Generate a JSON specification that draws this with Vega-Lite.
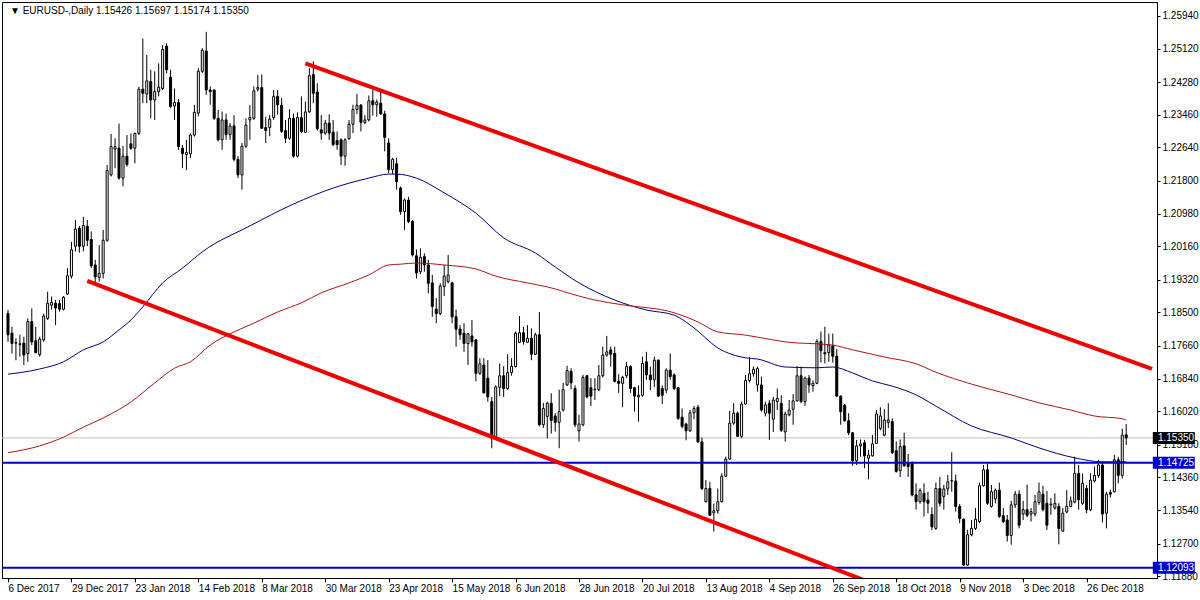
{
"$schema":"https://vega.github.io/schema/vega-lite/v6.json",
"width":1155,"height":576,
"autosize":{"type":"none"},
"padding":{"left":2,"top":2,"right":43,"bottom":22},
"background":"white",
"config":{"view":{"stroke":"black","strokeWidth":1},"font":"Liberation Sans","axis":{"labelFont":"Liberation Sans","labelFontSize":10,"labelColor":"black","tickColor":"black","domainColor":"black","grid":false,"labelOverlap":false,"labelFlush":false}},
"datasets":{
"bars":[
{"d":"2017-12-06","i":0,"o":1.1847,"h":1.1856,"l":1.1776,"c":1.1794},
{"d":"2017-12-07","i":1,"o":1.1798,"h":1.1814,"l":1.1747,"c":1.1772},
{"d":"2017-12-08","i":2,"o":1.1773,"h":1.1785,"l":1.1730,"c":1.1774},
{"d":"2017-12-11","i":3,"o":1.1771,"h":1.1794,"l":1.1739,"c":1.1770},
{"d":"2017-12-12","i":4,"o":1.1773,"h":1.1789,"l":1.1718,"c":1.1743},
{"d":"2017-12-13","i":5,"o":1.1747,"h":1.1835,"l":1.1726,"c":1.1827},
{"d":"2017-12-14","i":6,"o":1.1827,"h":1.1860,"l":1.1768,"c":1.1776},
{"d":"2017-12-15","i":7,"o":1.1779,"h":1.1814,"l":1.1747,"c":1.1749},
{"d":"2017-12-18","i":8,"o":1.1744,"h":1.1789,"l":1.1739,"c":1.1783},
{"d":"2017-12-19","i":9,"o":1.1781,"h":1.1847,"l":1.1776,"c":1.1841},
{"d":"2017-12-20","i":10,"o":1.1835,"h":1.1902,"l":1.1831,"c":1.1873},
{"d":"2017-12-21","i":11,"o":1.1868,"h":1.1890,"l":1.1857,"c":1.1875},
{"d":"2017-12-22","i":12,"o":1.1873,"h":1.1881,"l":1.1818,"c":1.1861},
{"d":"2017-12-26","i":13,"o":1.1872,"h":1.1881,"l":1.1852,"c":1.1858},
{"d":"2017-12-27","i":14,"o":1.1858,"h":1.1891,"l":1.1855,"c":1.1888},
{"d":"2017-12-28","i":15,"o":1.1896,"h":1.1961,"l":1.1894,"c":1.1942},
{"d":"2017-12-29","i":16,"o":1.1941,"h":1.2027,"l":1.1935,"c":1.2007},
{"d":"2018-01-02","i":17,"o":1.2016,"h":1.2082,"l":1.2003,"c":1.2059},
{"d":"2018-01-03","i":18,"o":1.2061,"h":1.2067,"l":1.2000,"c":1.2016},
{"d":"2018-01-04","i":19,"o":1.2016,"h":1.2090,"l":1.2003,"c":1.2068},
{"d":"2018-01-05","i":20,"o":1.2066,"h":1.2082,"l":1.2016,"c":1.2031},
{"d":"2018-01-08","i":21,"o":1.2033,"h":1.2053,"l":1.1961,"c":1.1967},
{"d":"2018-01-09","i":22,"o":1.1969,"h":1.1982,"l":1.1919,"c":1.1939},
{"d":"2018-01-10","i":23,"o":1.1938,"h":1.2019,"l":1.1927,"c":1.1948},
{"d":"2018-01-11","i":24,"o":1.1948,"h":1.2057,"l":1.1935,"c":1.2031},
{"d":"2018-01-12","i":25,"o":1.2031,"h":1.2220,"l":1.2027,"c":1.2206},
{"d":"2018-01-15","i":26,"o":1.2195,"h":1.2298,"l":1.2191,"c":1.2266},
{"d":"2018-01-16","i":27,"o":1.2260,"h":1.2287,"l":1.2212,"c":1.2266},
{"d":"2018-01-17","i":28,"o":1.2262,"h":1.2324,"l":1.2183,"c":1.2187},
{"d":"2018-01-18","i":29,"o":1.2187,"h":1.2268,"l":1.2166,"c":1.2242},
{"d":"2018-01-19","i":30,"o":1.2242,"h":1.2295,"l":1.2216,"c":1.2221},
{"d":"2018-01-22","i":31,"o":1.2273,"h":1.2299,"l":1.2258,"c":1.2262},
{"d":"2018-01-23","i":32,"o":1.2262,"h":1.2301,"l":1.2224,"c":1.2299},
{"d":"2018-01-24","i":33,"o":1.2299,"h":1.2416,"l":1.2295,"c":1.2410},
{"d":"2018-01-25","i":34,"o":1.2410,"h":1.2537,"l":1.2375,"c":1.2400},
{"d":"2018-01-26","i":35,"o":1.2398,"h":1.2496,"l":1.2375,"c":1.2431},
{"d":"2018-01-29","i":36,"o":1.2429,"h":1.2459,"l":1.2337,"c":1.2383},
{"d":"2018-01-30","i":37,"o":1.2383,"h":1.2455,"l":1.2333,"c":1.2404},
{"d":"2018-01-31","i":38,"o":1.2404,"h":1.2475,"l":1.2392,"c":1.2415},
{"d":"2018-02-01","i":39,"o":1.2412,"h":1.2521,"l":1.2408,"c":1.2510},
{"d":"2018-02-02","i":40,"o":1.2518,"h":1.2525,"l":1.2450,"c":1.2459},
{"d":"2018-02-05","i":41,"o":1.2440,"h":1.2459,"l":1.2363,"c":1.2367},
{"d":"2018-02-06","i":42,"o":1.2368,"h":1.2412,"l":1.2333,"c":1.2377},
{"d":"2018-02-07","i":43,"o":1.2377,"h":1.2385,"l":1.2258,"c":1.2266},
{"d":"2018-02-08","i":44,"o":1.2262,"h":1.2270,"l":1.2212,"c":1.2248},
{"d":"2018-02-09","i":45,"o":1.2246,"h":1.2283,"l":1.2207,"c":1.2251},
{"d":"2018-02-12","i":46,"o":1.2248,"h":1.2299,"l":1.2237,"c":1.2295},
{"d":"2018-02-13","i":47,"o":1.2295,"h":1.2371,"l":1.2291,"c":1.2352},
{"d":"2018-02-14","i":48,"o":1.2350,"h":1.2463,"l":1.2342,"c":1.2455},
{"d":"2018-02-15","i":49,"o":1.2455,"h":1.2513,"l":1.2451,"c":1.2508},
{"d":"2018-02-16","i":50,"o":1.2506,"h":1.2554,"l":1.2396,"c":1.2408},
{"d":"2018-02-19","i":51,"o":1.2408,"h":1.2417,"l":1.2371,"c":1.2404},
{"d":"2018-02-20","i":52,"o":1.2408,"h":1.2410,"l":1.2333,"c":1.2337},
{"d":"2018-02-21","i":53,"o":1.2337,"h":1.2358,"l":1.2279,"c":1.2283},
{"d":"2018-02-22","i":54,"o":1.2283,"h":1.2354,"l":1.2258,"c":1.2333},
{"d":"2018-02-23","i":55,"o":1.2333,"h":1.2349,"l":1.2283,"c":1.2296},
{"d":"2018-02-26","i":56,"o":1.2296,"h":1.2325,"l":1.2283,"c":1.2318},
{"d":"2018-02-27","i":57,"o":1.2318,"h":1.2345,"l":1.2229,"c":1.2234},
{"d":"2018-02-28","i":58,"o":1.2234,"h":1.2242,"l":1.2187,"c":1.2195},
{"d":"2018-03-01","i":59,"o":1.2195,"h":1.2275,"l":1.2158,"c":1.2267},
{"d":"2018-03-02","i":60,"o":1.2267,"h":1.2337,"l":1.2263,"c":1.2320},
{"d":"2018-03-05","i":61,"o":1.2333,"h":1.2370,"l":1.2283,"c":1.2339},
{"d":"2018-03-06","i":62,"o":1.2337,"h":1.2417,"l":1.2333,"c":1.2406},
{"d":"2018-03-07","i":63,"o":1.2410,"h":1.2446,"l":1.2404,"c":1.2414},
{"d":"2018-03-08","i":64,"o":1.2414,"h":1.2447,"l":1.2311,"c":1.2312},
{"d":"2018-03-09","i":65,"o":1.2314,"h":1.2341,"l":1.2275,"c":1.2306},
{"d":"2018-03-12","i":66,"o":1.2314,"h":1.2345,"l":1.2292,"c":1.2335},
{"d":"2018-03-13","i":67,"o":1.2339,"h":1.2408,"l":1.2333,"c":1.2392},
{"d":"2018-03-14","i":68,"o":1.2392,"h":1.2408,"l":1.2346,"c":1.2371},
{"d":"2018-03-15","i":69,"o":1.2370,"h":1.2388,"l":1.2300,"c":1.2304},
{"d":"2018-03-16","i":70,"o":1.2306,"h":1.2333,"l":1.2275,"c":1.2287},
{"d":"2018-03-19","i":71,"o":1.2287,"h":1.2360,"l":1.2283,"c":1.2337},
{"d":"2018-03-20","i":72,"o":1.2337,"h":1.2349,"l":1.2238,"c":1.2242},
{"d":"2018-03-21","i":73,"o":1.2242,"h":1.2352,"l":1.2239,"c":1.2339},
{"d":"2018-03-22","i":74,"o":1.2339,"h":1.2392,"l":1.2300,"c":1.2304},
{"d":"2018-03-23","i":75,"o":1.2302,"h":1.2379,"l":1.2300,"c":1.2353},
{"d":"2018-03-26","i":76,"o":1.2353,"h":1.2463,"l":1.2351,"c":1.2444},
{"d":"2018-03-27","i":77,"o":1.2447,"h":1.2480,"l":1.2375,"c":1.2400},
{"d":"2018-03-28","i":78,"o":1.2403,"h":1.2425,"l":1.2306,"c":1.2311},
{"d":"2018-03-29","i":79,"o":1.2308,"h":1.2345,"l":1.2283,"c":1.2300},
{"d":"2018-03-30","i":80,"o":1.2300,"h":1.2333,"l":1.2296,"c":1.2325},
{"d":"2018-04-02","i":81,"o":1.2325,"h":1.2347,"l":1.2283,"c":1.2300},
{"d":"2018-04-03","i":82,"o":1.2302,"h":1.2333,"l":1.2267,"c":1.2271},
{"d":"2018-04-04","i":83,"o":1.2281,"h":1.2304,"l":1.2258,"c":1.2271},
{"d":"2018-04-05","i":84,"o":1.2283,"h":1.2287,"l":1.2220,"c":1.2242},
{"d":"2018-04-06","i":85,"o":1.2242,"h":1.2287,"l":1.2218,"c":1.2283},
{"d":"2018-04-09","i":86,"o":1.2286,"h":1.2333,"l":1.2283,"c":1.2322},
{"d":"2018-04-10","i":87,"o":1.2322,"h":1.2371,"l":1.2300,"c":1.2359},
{"d":"2018-04-11","i":88,"o":1.2359,"h":1.2398,"l":1.2348,"c":1.2370},
{"d":"2018-04-12","i":89,"o":1.2370,"h":1.2373,"l":1.2304,"c":1.2327},
{"d":"2018-04-13","i":90,"o":1.2327,"h":1.2345,"l":1.2322,"c":1.2333},
{"d":"2018-04-16","i":91,"o":1.2333,"h":1.2394,"l":1.2329,"c":1.2381},
{"d":"2018-04-17","i":92,"o":1.2381,"h":1.2408,"l":1.2344,"c":1.2371},
{"d":"2018-04-18","i":93,"o":1.2371,"h":1.2384,"l":1.2341,"c":1.2378},
{"d":"2018-04-19","i":94,"o":1.2375,"h":1.2408,"l":1.2346,"c":1.2348},
{"d":"2018-04-20","i":95,"o":1.2348,"h":1.2356,"l":1.2254,"c":1.2289},
{"d":"2018-04-23","i":96,"o":1.2275,"h":1.2287,"l":1.2199,"c":1.2208},
{"d":"2018-04-24","i":97,"o":1.2208,"h":1.2238,"l":1.2197,"c":1.2234},
{"d":"2018-04-25","i":98,"o":1.2223,"h":1.2238,"l":1.2158,"c":1.2178},
{"d":"2018-04-26","i":99,"o":1.2162,"h":1.2166,"l":1.2095,"c":1.2103},
{"d":"2018-04-27","i":100,"o":1.2103,"h":1.2136,"l":1.2057,"c":1.2132},
{"d":"2018-04-30","i":101,"o":1.2132,"h":1.2140,"l":1.2074,"c":1.2078},
{"d":"2018-05-01","i":102,"o":1.2078,"h":1.2082,"l":1.1990,"c":1.1994},
{"d":"2018-05-02","i":103,"o":1.1992,"h":1.2008,"l":1.1935,"c":1.1949},
{"d":"2018-05-03","i":104,"o":1.1952,"h":1.2011,"l":1.1946,"c":1.1988},
{"d":"2018-05-04","i":105,"o":1.1990,"h":1.1998,"l":1.1952,"c":1.1969},
{"d":"2018-05-07","i":106,"o":1.1969,"h":1.1982,"l":1.1898,"c":1.1923},
{"d":"2018-05-08","i":107,"o":1.1924,"h":1.1944,"l":1.1839,"c":1.1865},
{"d":"2018-05-09","i":108,"o":1.1858,"h":1.1886,"l":1.1823,"c":1.1847},
{"d":"2018-05-10","i":109,"o":1.1847,"h":1.1923,"l":1.1843,"c":1.1916},
{"d":"2018-05-11","i":110,"o":1.1915,"h":1.1969,"l":1.1891,"c":1.1941},
{"d":"2018-05-14","i":111,"o":1.1927,"h":1.1994,"l":1.1923,"c":1.1944},
{"d":"2018-05-15","i":112,"o":1.1924,"h":1.1927,"l":1.1823,"c":1.1839},
{"d":"2018-05-16","i":113,"o":1.1839,"h":1.1857,"l":1.1764,"c":1.1808},
{"d":"2018-05-17","i":114,"o":1.1808,"h":1.1818,"l":1.1781,"c":1.1794},
{"d":"2018-05-18","i":115,"o":1.1798,"h":1.1823,"l":1.1751,"c":1.1772},
{"d":"2018-05-21","i":116,"o":1.1772,"h":1.1798,"l":1.1718,"c":1.1796},
{"d":"2018-05-22","i":117,"o":1.1791,"h":1.1831,"l":1.1764,"c":1.1776},
{"d":"2018-05-23","i":118,"o":1.1781,"h":1.1783,"l":1.1677,"c":1.1697},
{"d":"2018-05-24","i":119,"o":1.1697,"h":1.1735,"l":1.1693,"c":1.1721},
{"d":"2018-05-25","i":120,"o":1.1718,"h":1.1735,"l":1.1647,"c":1.1648},
{"d":"2018-05-28","i":121,"o":1.1685,"h":1.1730,"l":1.1626,"c":1.1638},
{"d":"2018-05-29","i":122,"o":1.1626,"h":1.1638,"l":1.1509,"c":1.1538},
{"d":"2018-05-30","i":123,"o":1.1538,"h":1.1667,"l":1.1530,"c":1.1663},
{"d":"2018-05-31","i":124,"o":1.1662,"h":1.1722,"l":1.1640,"c":1.1691},
{"d":"2018-06-01","i":125,"o":1.1691,"h":1.1715,"l":1.1638,"c":1.1659},
{"d":"2018-06-04","i":126,"o":1.1659,"h":1.1745,"l":1.1655,"c":1.1699},
{"d":"2018-06-05","i":127,"o":1.1699,"h":1.1735,"l":1.1691,"c":1.1715},
{"d":"2018-06-06","i":128,"o":1.1714,"h":1.1802,"l":1.1712,"c":1.1798},
{"d":"2018-06-07","i":129,"o":1.1775,"h":1.1841,"l":1.1773,"c":1.1799},
{"d":"2018-06-08","i":130,"o":1.1799,"h":1.1814,"l":1.1769,"c":1.1777},
{"d":"2018-06-11","i":131,"o":1.1775,"h":1.1818,"l":1.1773,"c":1.1785},
{"d":"2018-06-12","i":132,"o":1.1785,"h":1.1810,"l":1.1730,"c":1.1745},
{"d":"2018-06-13","i":133,"o":1.1745,"h":1.1799,"l":1.1743,"c":1.1794},
{"d":"2018-06-14","i":134,"o":1.1794,"h":1.1851,"l":1.1564,"c":1.1568},
{"d":"2018-06-15","i":135,"o":1.1568,"h":1.1623,"l":1.1560,"c":1.1609},
{"d":"2018-06-18","i":136,"o":1.1589,"h":1.1626,"l":1.1534,"c":1.1622},
{"d":"2018-06-19","i":137,"o":1.1622,"h":1.1647,"l":1.1546,"c":1.1579},
{"d":"2018-06-20","i":138,"o":1.1590,"h":1.1597,"l":1.1551,"c":1.1574},
{"d":"2018-06-21","i":139,"o":1.1574,"h":1.1656,"l":1.1509,"c":1.1601},
{"d":"2018-06-22","i":140,"o":1.1605,"h":1.1673,"l":1.1601,"c":1.1656},
{"d":"2018-06-25","i":141,"o":1.1668,"h":1.1716,"l":1.1666,"c":1.1704},
{"d":"2018-06-26","i":142,"o":1.1702,"h":1.1710,"l":1.1657,"c":1.1673},
{"d":"2018-06-27","i":143,"o":1.1659,"h":1.1667,"l":1.1562,"c":1.1568},
{"d":"2018-06-28","i":144,"o":1.1553,"h":1.1593,"l":1.1526,"c":1.1570},
{"d":"2018-06-29","i":145,"o":1.1568,"h":1.1693,"l":1.1564,"c":1.1687},
{"d":"2018-07-02","i":146,"o":1.1691,"h":1.1693,"l":1.1634,"c":1.1638},
{"d":"2018-07-03","i":147,"o":1.1661,"h":1.1685,"l":1.1615,"c":1.1640},
{"d":"2018-07-04","i":148,"o":1.1657,"h":1.1685,"l":1.1630,"c":1.1656},
{"d":"2018-07-05","i":149,"o":1.1656,"h":1.1718,"l":1.1653,"c":1.1691},
{"d":"2018-07-06","i":150,"o":1.1691,"h":1.1764,"l":1.1687,"c":1.1743},
{"d":"2018-07-09","i":151,"o":1.1743,"h":1.1791,"l":1.1739,"c":1.1751},
{"d":"2018-07-10","i":152,"o":1.1756,"h":1.1764,"l":1.1714,"c":1.1745},
{"d":"2018-07-11","i":153,"o":1.1747,"h":1.1764,"l":1.1674,"c":1.1677},
{"d":"2018-07-12","i":154,"o":1.1677,"h":1.1695,"l":1.1648,"c":1.1672},
{"d":"2018-07-13","i":155,"o":1.1672,"h":1.1691,"l":1.1612,"c":1.1687},
{"d":"2018-07-16","i":156,"o":1.1691,"h":1.1726,"l":1.1685,"c":1.1714},
{"d":"2018-07-17","i":157,"o":1.1714,"h":1.1718,"l":1.1648,"c":1.1659},
{"d":"2018-07-18","i":158,"o":1.1661,"h":1.1663,"l":1.1601,"c":1.1640},
{"d":"2018-07-19","i":159,"o":1.1638,"h":1.1667,"l":1.1576,"c":1.1642},
{"d":"2018-07-20","i":160,"o":1.1642,"h":1.1739,"l":1.1638,"c":1.1722},
{"d":"2018-07-23","i":161,"o":1.1726,"h":1.1751,"l":1.1681,"c":1.1693},
{"d":"2018-07-24","i":162,"o":1.1693,"h":1.1714,"l":1.1655,"c":1.1681},
{"d":"2018-07-25","i":163,"o":1.1681,"h":1.1739,"l":1.1663,"c":1.1730},
{"d":"2018-07-26","i":164,"o":1.1730,"h":1.1732,"l":1.1638,"c":1.1640},
{"d":"2018-07-27","i":165,"o":1.1659,"h":1.1667,"l":1.1620,"c":1.1642},
{"d":"2018-07-30","i":166,"o":1.1655,"h":1.1710,"l":1.1647,"c":1.1705},
{"d":"2018-07-31","i":167,"o":1.1705,"h":1.1747,"l":1.1681,"c":1.1689},
{"d":"2018-08-01","i":168,"o":1.1693,"h":1.1697,"l":1.1655,"c":1.1659},
{"d":"2018-08-02","i":169,"o":1.1661,"h":1.1663,"l":1.1580,"c":1.1584},
{"d":"2018-08-03","i":170,"o":1.1587,"h":1.1609,"l":1.1559,"c":1.1564},
{"d":"2018-08-06","i":171,"o":1.1570,"h":1.1573,"l":1.1529,"c":1.1553},
{"d":"2018-08-07","i":172,"o":1.1553,"h":1.1605,"l":1.1550,"c":1.1598},
{"d":"2018-08-08","i":173,"o":1.1598,"h":1.1615,"l":1.1582,"c":1.1609},
{"d":"2018-08-09","i":174,"o":1.1612,"h":1.1618,"l":1.1523,"c":1.1525},
{"d":"2018-08-10","i":175,"o":1.1525,"h":1.1536,"l":1.1404,"c":1.1408},
{"d":"2018-08-13","i":176,"o":1.1375,"h":1.1429,"l":1.1373,"c":1.1408},
{"d":"2018-08-14","i":177,"o":1.1408,"h":1.1425,"l":1.1339,"c":1.1341},
{"d":"2018-08-15","i":178,"o":1.1347,"h":1.1370,"l":1.1300,"c":1.1352},
{"d":"2018-08-16","i":179,"o":1.1352,"h":1.1408,"l":1.1345,"c":1.1375},
{"d":"2018-08-17","i":180,"o":1.1375,"h":1.1446,"l":1.1373,"c":1.1439},
{"d":"2018-08-20","i":181,"o":1.1439,"h":1.1488,"l":1.1437,"c":1.1482},
{"d":"2018-08-21","i":182,"o":1.1482,"h":1.1603,"l":1.1480,"c":1.1572},
{"d":"2018-08-22","i":183,"o":1.1572,"h":1.1622,"l":1.1568,"c":1.1597},
{"d":"2018-08-23","i":184,"o":1.1597,"h":1.1601,"l":1.1538,"c":1.1539},
{"d":"2018-08-24","i":185,"o":1.1539,"h":1.1626,"l":1.1534,"c":1.1620},
{"d":"2018-08-27","i":186,"o":1.1620,"h":1.1693,"l":1.1618,"c":1.1679},
{"d":"2018-08-28","i":187,"o":1.1679,"h":1.1737,"l":1.1674,"c":1.1696},
{"d":"2018-08-29","i":188,"o":1.1696,"h":1.1714,"l":1.1689,"c":1.1707},
{"d":"2018-08-30","i":189,"o":1.1668,"h":1.1714,"l":1.1651,"c":1.1709},
{"d":"2018-08-31","i":190,"o":1.1668,"h":1.1689,"l":1.1601,"c":1.1605},
{"d":"2018-09-03","i":191,"o":1.1597,"h":1.1626,"l":1.1589,"c":1.1618},
{"d":"2018-09-04","i":192,"o":1.1622,"h":1.1630,"l":1.1530,"c":1.1597},
{"d":"2018-09-05","i":193,"o":1.1582,"h":1.1638,"l":1.1550,"c":1.1630},
{"d":"2018-09-06","i":194,"o":1.1626,"h":1.1659,"l":1.1605,"c":1.1634},
{"d":"2018-09-07","i":195,"o":1.1622,"h":1.1642,"l":1.1550,"c":1.1554},
{"d":"2018-09-10","i":196,"o":1.1550,"h":1.1601,"l":1.1526,"c":1.1595},
{"d":"2018-09-11","i":197,"o":1.1593,"h":1.1630,"l":1.1589,"c":1.1605},
{"d":"2018-09-12","i":198,"o":1.1607,"h":1.1645,"l":1.1568,"c":1.1628},
{"d":"2018-09-13","i":199,"o":1.1628,"h":1.1715,"l":1.1626,"c":1.1691},
{"d":"2018-09-14","i":200,"o":1.1691,"h":1.1714,"l":1.1622,"c":1.1626},
{"d":"2018-09-17","i":201,"o":1.1626,"h":1.1689,"l":1.1615,"c":1.1685},
{"d":"2018-09-18","i":202,"o":1.1685,"h":1.1693,"l":1.1648,"c":1.1668},
{"d":"2018-09-19","i":203,"o":1.1666,"h":1.1679,"l":1.1651,"c":1.1672},
{"d":"2018-09-20","i":204,"o":1.1672,"h":1.1783,"l":1.1670,"c":1.1777},
{"d":"2018-09-21","i":205,"o":1.1777,"h":1.1802,"l":1.1724,"c":1.1754},
{"d":"2018-09-24","i":206,"o":1.1749,"h":1.1814,"l":1.1722,"c":1.1746},
{"d":"2018-09-25","i":207,"o":1.1749,"h":1.1797,"l":1.1726,"c":1.1768},
{"d":"2018-09-26","i":208,"o":1.1766,"h":1.1797,"l":1.1724,"c":1.1740},
{"d":"2018-09-27","i":209,"o":1.1740,"h":1.1758,"l":1.1638,"c":1.1640},
{"d":"2018-09-28","i":210,"o":1.1640,"h":1.1642,"l":1.1568,"c":1.1601},
{"d":"2018-10-01","i":211,"o":1.1617,"h":1.1620,"l":1.1576,"c":1.1578},
{"d":"2018-10-02","i":212,"o":1.1578,"h":1.1597,"l":1.1542,"c":1.1548},
{"d":"2018-10-03","i":213,"o":1.1548,"h":1.1550,"l":1.1465,"c":1.1478},
{"d":"2018-10-04","i":214,"o":1.1478,"h":1.1530,"l":1.1467,"c":1.1515},
{"d":"2018-10-05","i":215,"o":1.1515,"h":1.1531,"l":1.1488,"c":1.1520},
{"d":"2018-10-08","i":216,"o":1.1523,"h":1.1530,"l":1.1459,"c":1.1490},
{"d":"2018-10-09","i":217,"o":1.1484,"h":1.1505,"l":1.1431,"c":1.1492},
{"d":"2018-10-10","i":218,"o":1.1490,"h":1.1542,"l":1.1488,"c":1.1520},
{"d":"2018-10-11","i":219,"o":1.1521,"h":1.1605,"l":1.1520,"c":1.1595},
{"d":"2018-10-12","i":220,"o":1.1559,"h":1.1612,"l":1.1554,"c":1.1590},
{"d":"2018-10-15","i":221,"o":1.1542,"h":1.1607,"l":1.1539,"c":1.1580},
{"d":"2018-10-16","i":222,"o":1.1574,"h":1.1622,"l":1.1560,"c":1.1580},
{"d":"2018-10-17","i":223,"o":1.1576,"h":1.1584,"l":1.1495,"c":1.1498},
{"d":"2018-10-18","i":224,"o":1.1503,"h":1.1526,"l":1.1448,"c":1.1451},
{"d":"2018-10-19","i":225,"o":1.1453,"h":1.1531,"l":1.1437,"c":1.1513},
{"d":"2018-10-22","i":226,"o":1.1515,"h":1.1548,"l":1.1463,"c":1.1465},
{"d":"2018-10-23","i":227,"o":1.1473,"h":1.1495,"l":1.1437,"c":1.1463},
{"d":"2018-10-24","i":228,"o":1.1473,"h":1.1476,"l":1.1388,"c":1.1392},
{"d":"2018-10-25","i":229,"o":1.1392,"h":1.1421,"l":1.1355,"c":1.1375},
{"d":"2018-10-26","i":230,"o":1.1375,"h":1.1409,"l":1.1370,"c":1.1403},
{"d":"2018-10-29","i":231,"o":1.1396,"h":1.1421,"l":1.1338,"c":1.1375},
{"d":"2018-10-30","i":232,"o":1.1379,"h":1.1400,"l":1.1346,"c":1.1371},
{"d":"2018-10-31","i":233,"o":1.1343,"h":1.1361,"l":1.1304,"c":1.1312},
{"d":"2018-11-01","i":234,"o":1.1308,"h":1.1423,"l":1.1304,"c":1.1408},
{"d":"2018-11-02","i":235,"o":1.1408,"h":1.1437,"l":1.1363,"c":1.1371},
{"d":"2018-11-05","i":236,"o":1.1388,"h":1.1417,"l":1.1355,"c":1.1407},
{"d":"2018-11-06","i":237,"o":1.1407,"h":1.1442,"l":1.1392,"c":1.1425},
{"d":"2018-11-07","i":238,"o":1.1427,"h":1.1499,"l":1.1400,"c":1.1428},
{"d":"2018-11-08","i":239,"o":1.1427,"h":1.1443,"l":1.1350,"c":1.1363},
{"d":"2018-11-09","i":240,"o":1.1363,"h":1.1369,"l":1.1321,"c":1.1333},
{"d":"2018-11-12","i":241,"o":1.1331,"h":1.1333,"l":1.1214,"c":1.1216},
{"d":"2018-11-13","i":242,"o":1.1216,"h":1.1304,"l":1.1214,"c":1.1292},
{"d":"2018-11-14","i":243,"o":1.1292,"h":1.1329,"l":1.1288,"c":1.1308},
{"d":"2018-11-15","i":244,"o":1.1308,"h":1.1359,"l":1.1304,"c":1.1331},
{"d":"2018-11-16","i":245,"o":1.1325,"h":1.1423,"l":1.1321,"c":1.1415},
{"d":"2018-11-19","i":246,"o":1.1415,"h":1.1467,"l":1.1413,"c":1.1455},
{"d":"2018-11-20","i":247,"o":1.1455,"h":1.1471,"l":1.1367,"c":1.1371},
{"d":"2018-11-21","i":248,"o":1.1363,"h":1.1417,"l":1.1360,"c":1.1400},
{"d":"2018-11-22","i":249,"o":1.1382,"h":1.1408,"l":1.1371,"c":1.1404},
{"d":"2018-11-23","i":250,"o":1.1404,"h":1.1423,"l":1.1334,"c":1.1338},
{"d":"2018-11-26","i":251,"o":1.1340,"h":1.1359,"l":1.1321,"c":1.1325},
{"d":"2018-11-27","i":252,"o":1.1329,"h":1.1342,"l":1.1275,"c":1.1290},
{"d":"2018-11-28","i":253,"o":1.1290,"h":1.1377,"l":1.1267,"c":1.1367},
{"d":"2018-11-29","i":254,"o":1.1367,"h":1.1402,"l":1.1359,"c":1.1394},
{"d":"2018-11-30","i":255,"o":1.1394,"h":1.1404,"l":1.1308,"c":1.1316},
{"d":"2018-12-03","i":256,"o":1.1344,"h":1.1377,"l":1.1329,"c":1.1355},
{"d":"2018-12-04","i":257,"o":1.1355,"h":1.1418,"l":1.1336,"c":1.1341},
{"d":"2018-12-05","i":258,"o":1.1344,"h":1.1359,"l":1.1325,"c":1.1350},
{"d":"2018-12-06","i":259,"o":1.1344,"h":1.1392,"l":1.1338,"c":1.1375},
{"d":"2018-12-07","i":260,"o":1.1373,"h":1.1423,"l":1.1367,"c":1.1400},
{"d":"2018-12-10","i":261,"o":1.1394,"h":1.1415,"l":1.1351,"c":1.1355},
{"d":"2018-12-11","i":262,"o":1.1371,"h":1.1402,"l":1.1304,"c":1.1316},
{"d":"2018-12-12","i":263,"o":1.1367,"h":1.1384,"l":1.1342,"c":1.1369},
{"d":"2018-12-13","i":264,"o":1.1359,"h":1.1396,"l":1.1355,"c":1.1371},
{"d":"2018-12-14","i":265,"o":1.1363,"h":1.1371,"l":1.1268,"c":1.1308},
{"d":"2018-12-17","i":266,"o":1.1301,"h":1.1359,"l":1.1300,"c":1.1346},
{"d":"2018-12-18","i":267,"o":1.1349,"h":1.1404,"l":1.1346,"c":1.1363},
{"d":"2018-12-19","i":268,"o":1.1363,"h":1.1388,"l":1.1361,"c":1.1377},
{"d":"2018-12-20","i":269,"o":1.1374,"h":1.1488,"l":1.1371,"c":1.1446},
{"d":"2018-12-21","i":270,"o":1.1446,"h":1.1467,"l":1.1355,"c":1.1380},
{"d":"2018-12-24","i":271,"o":1.1371,"h":1.1446,"l":1.1367,"c":1.1421},
{"d":"2018-12-26","i":272,"o":1.1408,"h":1.1417,"l":1.1346,"c":1.1355},
{"d":"2018-12-27","i":273,"o":1.1355,"h":1.1446,"l":1.1351,"c":1.1429},
{"d":"2018-12-28","i":274,"o":1.1427,"h":1.1463,"l":1.1423,"c":1.1441},
{"d":"2018-12-31","i":275,"o":1.1441,"h":1.1480,"l":1.1435,"c":1.1467},
{"d":"2019-01-02","i":276,"o":1.1467,"h":1.1476,"l":1.1323,"c":1.1344},
{"d":"2019-01-03","i":277,"o":1.1346,"h":1.1400,"l":1.1308,"c":1.1394},
{"d":"2019-01-04","i":278,"o":1.1398,"h":1.1405,"l":1.1385,"c":1.1394},
{"d":"2019-01-07","i":279,"o":1.1400,"h":1.1492,"l":1.1398,"c":1.1480},
{"d":"2019-01-08","i":280,"o":1.1480,"h":1.1488,"l":1.1421,"c":1.1441},
{"d":"2019-01-09","i":281,"o":1.1441,"h":1.1558,"l":1.1433,"c":1.1542},
{"d":"2019-01-10","i":282,"o":1.15426,"h":1.15697,"l":1.15174,"c":1.1535}
],
"blue":[
{"i":0,"v":1.1695},{"i":8,"v":1.1708},{"i":14,"v":1.1726},{"i":19,"v":1.1756},{"i":24,"v":1.1776},{"i":28,"v":1.1806},{"i":31,"v":1.1831},{"i":34,"v":1.1864},{"i":39,"v":1.1924},{"i":44,"v":1.1961},{"i":49,"v":1.2002},{"i":61,"v":1.2067},{"i":72,"v":1.2122},{"i":82,"v":1.2162},{"i":91,"v":1.2187},{"i":96,"v":1.2197},{"i":98,"v":1.2197},{"i":103,"v":1.2187},{"i":110,"v":1.2150},{"i":118,"v":1.2099},{"i":125,"v":1.2037},{"i":133,"v":1.1999},{"i":138,"v":1.1964},{"i":144,"v":1.1924},{"i":153,"v":1.1881},{"i":161,"v":1.1856},{"i":168,"v":1.1843},{"i":173,"v":1.1811},{"i":179,"v":1.1761},{"i":186,"v":1.1736},{"i":189,"v":1.1733},{"i":196,"v":1.1713},{"i":204,"v":1.1711},{"i":208,"v":1.1713},{"i":213,"v":1.1698},{"i":218,"v":1.1678},{"i":223,"v":1.1665},{"i":229,"v":1.1643},{"i":234,"v":1.1615},{"i":243,"v":1.1565},{"i":253,"v":1.1535},{"i":260,"v":1.1510},{"i":269,"v":1.1485},{"i":276,"v":1.1475},{"i":282,"v":1.1475}
],
"red":[
{"i":0,"v":1.1498},{"i":8,"v":1.1515},{"i":14,"v":1.1537},{"i":19,"v":1.1562},{"i":24,"v":1.1585},{"i":31,"v":1.1625},{"i":37,"v":1.1673},{"i":42,"v":1.1710},{"i":46,"v":1.1726},{"i":51,"v":1.1768},{"i":57,"v":1.1801},{"i":62,"v":1.1823},{"i":68,"v":1.1851},{"i":74,"v":1.1874},{"i":79,"v":1.1899},{"i":86,"v":1.1924},{"i":91,"v":1.1944},{"i":96,"v":1.1969},{"i":99,"v":1.1971},{"i":103,"v":1.1974},{"i":110,"v":1.1969},{"i":118,"v":1.1959},{"i":123,"v":1.1941},{"i":131,"v":1.1924},{"i":136,"v":1.1914},{"i":144,"v":1.1891},{"i":148,"v":1.1881},{"i":155,"v":1.1869},{"i":168,"v":1.1849},{"i":174,"v":1.1826},{"i":179,"v":1.1801},{"i":186,"v":1.1793},{"i":189,"v":1.1788},{"i":196,"v":1.1776},{"i":208,"v":1.1768},{"i":213,"v":1.1756},{"i":221,"v":1.1738},{"i":229,"v":1.1721},{"i":234,"v":1.1700},{"i":243,"v":1.1670},{"i":253,"v":1.1643},{"i":260,"v":1.1623},{"i":268,"v":1.1605},{"i":274,"v":1.1590},{"i":281,"v":1.1583},{"i":282,"v":1.1580}
],
"trend":[
{"t":"upper","i":75,"p":1.2475},{"t":"upper","i":288.5,"p":1.1708},
{"t":"lower","i":20,"p":1.1929},{"t":"lower","i":230,"p":1.1124}
],
"levels":[
{"p":1.1535,"lab":"1.15350","kind":"last"},
{"p":1.14725,"lab":"1.14725","kind":"level"},
{"p":1.12093,"lab":"1.12093","kind":"level"}
],
"head":[{"a":"▼ EURUSD-,Daily","b":"1.15426 1.15697 1.15174 1.15350"}]
},
"layer":[
{"data":{"name":"levels"},"transform":[{"filter":"datum.kind == 'last'"}],
 "mark":{"type":"rule","color":"#c0c0c0","strokeWidth":1},
 "encoding":{"y":{"field":"p","type":"quantitative","title":null,"scale":{"domain":[1.11835,1.26289],"nice":false,"zero":false},
   "axis":{"orient":"right","values":[1.1188,1.127,1.1354,1.1436,1.1518,1.1602,1.1684,1.1766,1.185,1.1932,1.2016,1.2098,1.218,1.2264,1.2346,1.2428,1.2512,1.2594],
    "tickCount":40,"format":".5f","tickSize":3,"labelPadding":2,"labelOverlap":false,"labelFlush":false,"labelBaseline":"middle"}}}},
{"data":{"name":"bars"},
 "mark":{"type":"rule","color":"black","strokeWidth":1},
 "encoding":{
  "x":{"field":"i","type":"quantitative","title":null,"scale":{"domain":[-0.25,288.5],"nice":false,"zero":false},
   "axis":{"orient":"bottom","values":[0,16,32,48,64,80,96,112,128,144,160,176,192,208,224,240,256,272],"tickCount":40,
    "labelExpr":"['6 Dec 2017','29 Dec 2017','23 Jan 2018','14 Feb 2018','8 Mar 2018','30 Mar 2018','23 Apr 2018','15 May 2018','6 Jun 2018','28 Jun 2018','20 Jul 2018','13 Aug 2018','4 Sep 2018','26 Sep 2018','18 Oct 2018','9 Nov 2018','3 Dec 2018','26 Dec 2018'][round(datum.value/16)]",
    "labelAlign":"left","labelBaseline":"top","tickSize":4,"labelPadding":1,"labelOverlap":false,"labelFlush":false,"domain":true}},
  "y":{"field":"l","type":"quantitative","title":null,"scale":{"domain":[1.11835,1.26289],"nice":false,"zero":false},
   "axis":{"orient":"right","values":[1.1188,1.127,1.1354,1.1436,1.1518,1.1602,1.1684,1.1766,1.185,1.1932,1.2016,1.2098,1.218,1.2264,1.2346,1.2428,1.2512,1.2594],
    "tickCount":40,"format":".5f","tickSize":3,"labelPadding":2,"labelOverlap":false,"labelFlush":false,"labelBaseline":"middle"}},
  "y2":{"field":"h"}}},
{"data":{"name":"bars"},
 "mark":{"type":"bar","width":2,"stroke":"black","strokeWidth":1},
 "encoding":{
  "x":{"field":"i","type":"quantitative","title":null,"scale":{"domain":[-0.25,288.5],"nice":false,"zero":false}},
  "y":{"field":"o","type":"quantitative","title":null,"scale":{"domain":[1.11835,1.26289],"nice":false,"zero":false}},
  "y2":{"field":"c"},
  "fill":{"condition":{"test":"datum.c < datum.o","value":"black"},"value":"white"}}},
{"data":{"name":"blue"},
 "mark":{"type":"line","color":"#000080","strokeWidth":1,"interpolate":"monotone"},
 "encoding":{
  "x":{"field":"i","type":"quantitative","title":null,"scale":{"domain":[-0.25,288.5],"nice":false,"zero":false}},
  "y":{"field":"v","type":"quantitative","title":null,"scale":{"domain":[1.11835,1.26289],"nice":false,"zero":false}}}},
{"data":{"name":"red"},
 "mark":{"type":"line","color":"#b01414","strokeWidth":1,"interpolate":"monotone"},
 "encoding":{
  "x":{"field":"i","type":"quantitative","title":null,"scale":{"domain":[-0.25,288.5],"nice":false,"zero":false}},
  "y":{"field":"v","type":"quantitative","title":null,"scale":{"domain":[1.11835,1.26289],"nice":false,"zero":false}}}},
{"data":{"name":"levels"},"transform":[{"filter":"datum.kind == 'level'"}],
 "mark":{"type":"rule","color":"#0000cd","strokeWidth":2},
 "encoding":{"y":{"field":"p","type":"quantitative","title":null,"scale":{"domain":[1.11835,1.26289],"nice":false,"zero":false}}}},
{"data":{"name":"trend"},
 "mark":{"type":"line","color":"#ee0000","strokeWidth":4,"clip":true},
 "encoding":{
  "x":{"field":"i","type":"quantitative","title":null,"scale":{"domain":[-0.25,288.5],"nice":false,"zero":false}},
  "y":{"field":"p","type":"quantitative","title":null,"scale":{"domain":[1.11835,1.26289],"nice":false,"zero":false}},
  "detail":{"field":"t"}}},
{"data":{"name":"levels"},
 "mark":{"type":"tick","orient":"horizontal","thickness":12,"opacity":1,"clip":false},
 "encoding":{
  "x":{"datum":294},
  "y":{"field":"p","type":"quantitative","title":null},
  "size":{"value":42},
  "color":{"condition":{"test":"datum.kind == 'last'","value":"black"},"value":"#0000cd"}}},
{"data":{"name":"levels"},
 "mark":{"type":"text","align":"left","baseline":"middle","color":"white","fontSize":10,"font":"Liberation Sans","clip":false},
 "encoding":{
  "x":{"datum":290},
  "y":{"field":"p","type":"quantitative","title":null},
  "text":{"field":"lab"}}},
{"data":{"name":"head"},
 "mark":{"type":"text","align":"left","baseline":"top","color":"black","fontSize":10,"font":"Liberation Sans, DejaVu Sans","dx":3,"dy":4},
 "encoding":{
  "x":{"datum":-0.25},
  "y":{"datum":1.26289},
  "text":{"field":"a"}}},
{"data":{"name":"head"},
 "mark":{"type":"text","align":"left","baseline":"top","color":"black","fontSize":10,"font":"Liberation Sans","dx":89,"dy":4},
 "encoding":{
  "x":{"datum":-0.25},
  "y":{"datum":1.26289},
  "text":{"field":"b"}}}
]
}
